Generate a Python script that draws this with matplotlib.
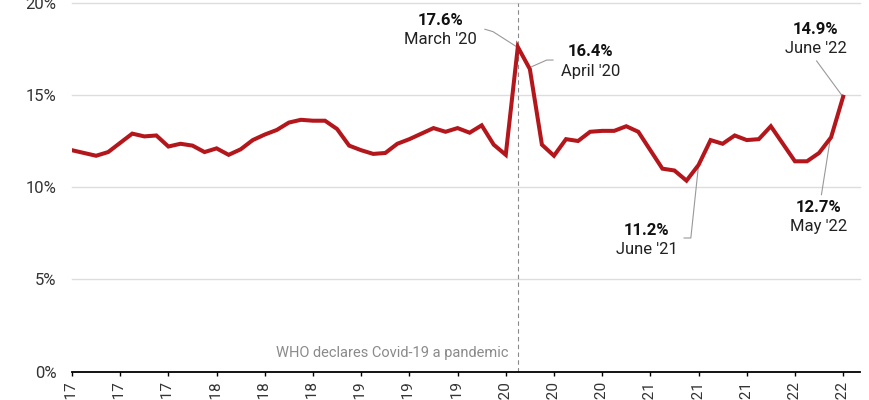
import numpy as np
import matplotlib
matplotlib.use("Agg")
import matplotlib.pyplot as plt

plt.rcParams['font.family'] = ['Roboto', 'DejaVu Sans']

# monthly values, Feb 2017 .. June 2022 (percent)
months = ['Feb', 'Mar', 'Apr', 'May', 'June', 'July', 'Aug', 'Sept', 'Oct', 'Nov', 'Dec', 'Jan']
rate = [12.0, 11.85, 11.7, 11.9, 12.4, 12.9, 12.75, 12.8, 12.2, 12.35, 12.25,
        11.9, 12.1, 11.75, 12.05, 12.55, 12.85, 13.1, 13.5, 13.65, 13.6, 13.6,
        13.15, 12.25, 12.0, 11.8, 11.85, 12.35, 12.6, 12.9, 13.2, 13.0, 13.2,
        12.95, 13.35, 12.3, 11.75, 17.6, 16.4, 12.3, 11.7, 12.6, 12.5, 13.0,
        13.05, 13.05, 13.3, 13.0, 12.0, 11.0, 10.9, 10.35, 11.2, 12.55, 12.35,
        12.8, 12.55, 12.6, 13.3, 12.35, 11.4, 11.4, 11.85, 12.7, 14.9]

# tick every 4 months, starting Feb '17
tick_idx = list(range(0, len(rate), 4))
tick_labels = []
for i in tick_idx:
    m = months[i % 12]
    yr = 17 + (i + 1) // 12
    tick_labels.append(f"{m} '{yr}")

# annotations: (index, value text, month text, text x, value y, month y)
notes = [
    (37, '17.6%', "March '20", 30.6, 19.05, 17.98),
    (38, '16.4%', "April '20", 43.07, 17.33, 16.29),
    (52, '11.2%', "June '21", 47.7, 7.67, 6.59),
    (63, '12.7%', "May '22", 62.0, 8.92, 7.84),
    (64, '14.9%', "June '22", 61.74, 18.57, 17.54),
]
# leader lines (pairs of x, y lists)
leaders = [
    ([34.27, 34.94, 36.93], [18.56, 18.43, 17.6]),
    ([38.15, 39.4, 39.92], [16.53, 16.89, 16.89]),
    ([52.0, 51.36, 50.8], [11.2, 7.24, 7.24]),
    ([62.95, 62.2], [12.7, 9.59]),
    ([61.8, 63.98], [16.84, 14.9]),
]

x = np.arange(len(rate))

fig = plt.figure(figsize=(8.7, 4), dpi=100)
ax = fig.add_axes([72/870, 28.5/400, 788/870, 368.8/400])

ax.set_xlim(0, 65.4)
ax.set_ylim(0, 20)

for yv in [5, 10, 15, 20]:
    ax.axhline(yv, color='#dddddd', lw=1, zorder=1, clip_on=False)

ax.axvline(37, color='#8a8a8a', lw=0.8, ls=(0, (4, 3)), zorder=2, clip_on=False)

ax.plot(x, rate, color='#b3161b', lw=2.9, solid_joinstyle='miter', zorder=4)

for xs, ys in leaders:
    ax.plot(xs, ys, color='#999999', lw=0.8, zorder=3)

for idx, val, mon, tx, vy, my in notes:
    ax.text(tx, vy, val, ha='center', va='center', fontsize=12,
            fontweight='bold', color='#111111', zorder=5)
    ax.text(tx, my, mon, ha='center', va='center', fontsize=12,
            color='#222222', zorder=5)

ax.text(36.2, 1.02, 'WHO declares Covid-19 a pandemic', ha='right', va='center',
        fontsize=10.5, color='#8a8a8a')

for s in ['top', 'right', 'left']:
    ax.spines[s].set_visible(False)
ax.spines['bottom'].set_color('black')
ax.spines['bottom'].set_linewidth(1.3)
ax.spines['bottom'].set_zorder(6)

ax.set_yticks([0, 5, 10, 15, 20])
ax.set_yticklabels(['0%', '5%', '10%', '15%', '20%'])
ax.tick_params(axis='y', length=0, pad=11, labelsize=12, labelcolor='#333333')

ax.set_xticks(tick_idx)
ax.set_xticklabels(tick_labels, rotation=90)
ax.tick_params(axis='x', length=3, width=1, color='black', pad=4.5,
               labelsize=11, labelcolor='#333333')

fig.savefig('out.png', dpi=100)
